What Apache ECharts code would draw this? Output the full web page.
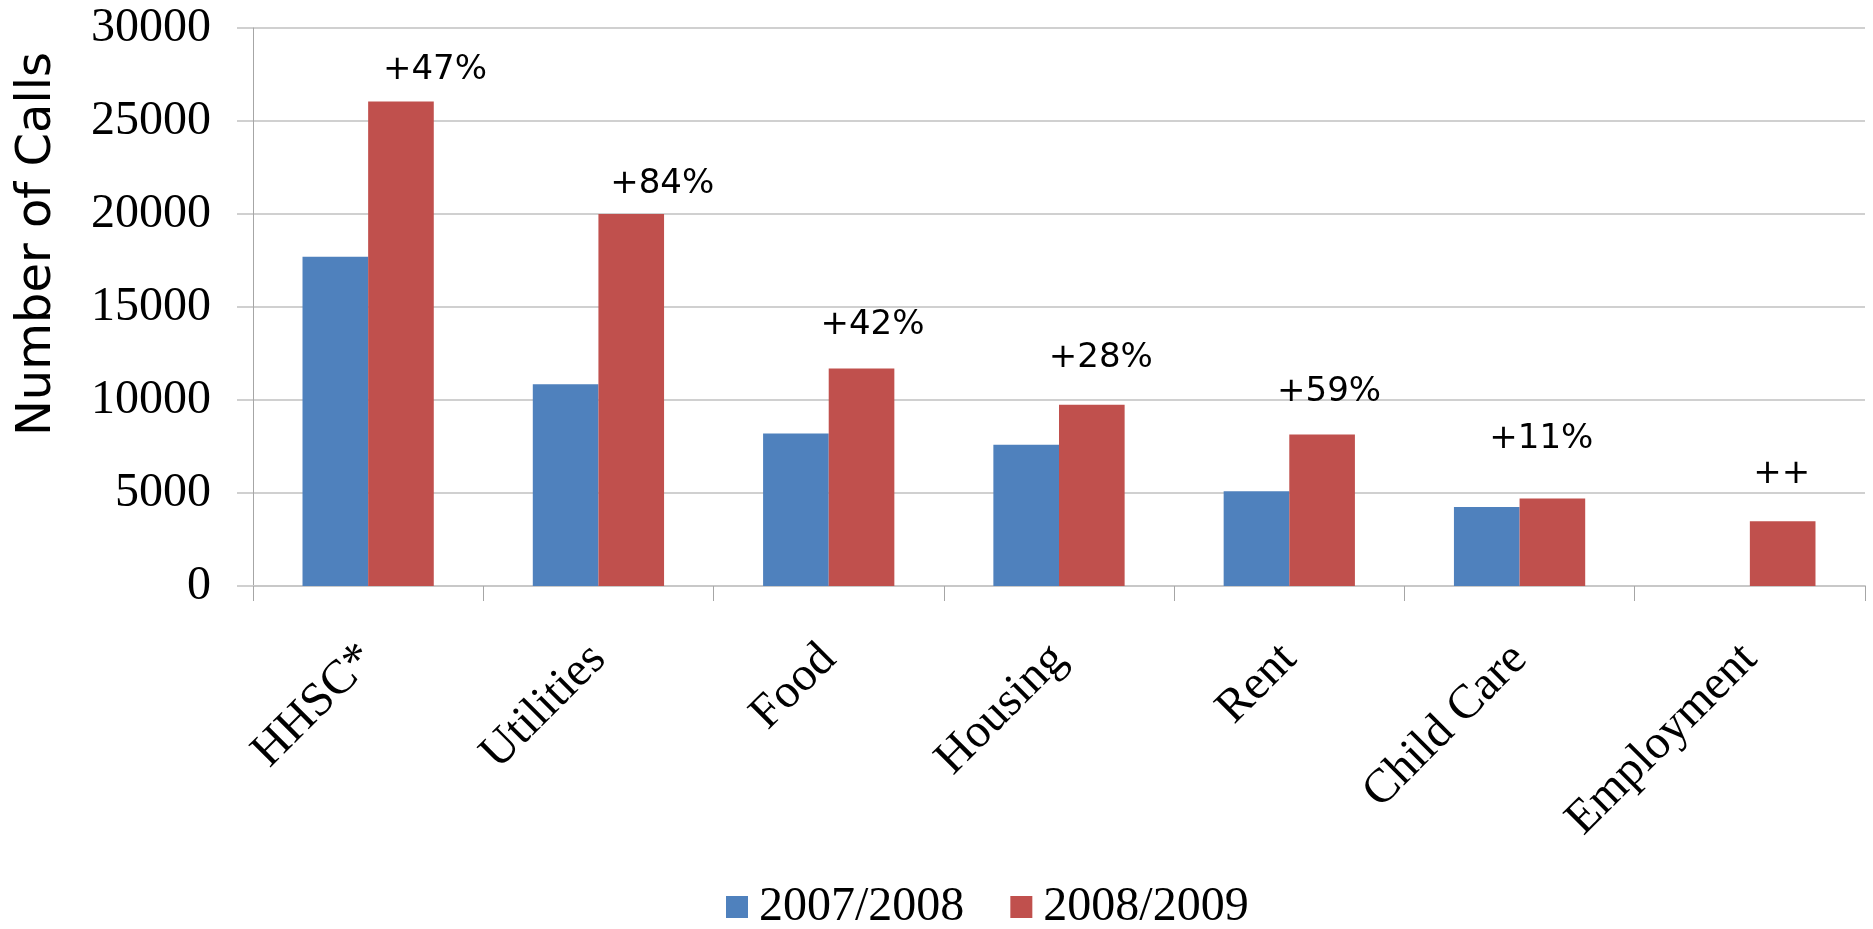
<!DOCTYPE html>
<html>
<head>
<meta charset="utf-8">
<script src="https://cdn.jsdelivr.net/npm/echarts@6/dist/echarts.min.js"></script>
<style>
html,body{margin:0;padding:0;background:#fff;}
#chart{width:1873px;height:929px;}
</style>
</head>
<body>
<div id="chart"></div>
<script>
// ---- data ----
const categories = ['HHSC*', 'Utilities', 'Food', 'Housing', 'Rent', 'Child Care', 'Employment'];
const seriesNames = ['2007/2008', '2008/2009'];
const calls2007 = [17700, 10850, 8200, 7600, 5100, 4250, null];
const calls2008 = [26050, 20000, 11700, 9750, 8150, 4700, 3480];
const changeLabels = ['+47%', '+84%', '+42%', '+28%', '+59%', '+11%', '++'];
const yMin = 0, yMax = 30000, yStep = 5000;

// ---- layout: label shifts (dx, height of label centre above bar top), px ----
const labelShift = [[34, 31], [31, 30], [11, 43], [9, 46], [7, 42], [-11, 59], [-1, 47]];
const LABEL_LH = 34;

const chart = echarts.init(document.getElementById('chart'), null, {renderer: 'canvas'});

const redData = calls2008.map((v, i) => ({
  value: v,
  label: {
    formatter: changeLabels[i],
    offset: [labelShift[i][0], -(labelShift[i][1] - LABEL_LH / 2)]
  }
}));

const option = {
  backgroundColor: '#ffffff',
  animation: false,
  grid: {left: 253, right: 8, top: 28, bottom: 343, containLabel: false, outerBoundsMode: 'none'},
  legend: {
    data: seriesNames,
    left: 721,
    top: 878,
    itemWidth: 22,
    itemHeight: 22,
    itemGap: 46,
    icon: 'rect',
    textStyle: {fontFamily: 'Liberation Serif', fontSize: 48, color: '#000', padding: [0, 0, 0, 6]}
  },
  xAxis: {
    type: 'category',
    data: categories,
    boundaryGap: true,
    axisLine: {show: true, lineStyle: {color: '#c8c8c8', width: 2}},
    axisTick: {show: true, length: 15, lineStyle: {color: '#a6a6a6', width: 1}},
    axisLabel: {
      rotate: 45,
      margin: 66,
      interval: 0,
      fontFamily: 'Liberation Serif',
      fontSize: 48,
      color: '#000'
    },
    splitLine: {show: false}
  },
  yAxis: {
    type: 'value',
    min: yMin,
    max: yMax,
    interval: yStep,
    name: 'Number of Calls',
    nameLocation: 'middle',
    nameRotate: 90,
    nameGap: 191,
    nameTextStyle: {fontFamily: 'DejaVu Sans', fontSize: 48, color: '#000', padding: [0, 0, 0, 126]},
    axisLine: {show: true, lineStyle: {color: '#a6a6a6', width: 1}},
    axisTick: {show: true, length: 16, lineStyle: {color: '#d0d0d0', width: 2}},
    axisLabel: {
      margin: 42,
      fontFamily: 'Liberation Serif',
      fontSize: 48,
      color: '#000',
      formatter: v => String(v)
    },
    splitLine: {show: true, lineStyle: {color: '#d0d0d0', width: 2}}
  },
  series: [
    {
      name: seriesNames[0],
      type: 'bar',
      data: calls2007,
      barGap: '0%',
      barCategoryGap: '43%',
      itemStyle: {color: '#4F81BD'}
    },
    {
      name: seriesNames[1],
      type: 'bar',
      data: redData,
      barGap: '0%',
      barCategoryGap: '43%',
      itemStyle: {color: '#C0504D'},
      label: {
        show: true,
        position: 'top',
        distance: 0,
        fontFamily: 'DejaVu Sans',
        fontSize: 34,
        lineHeight: LABEL_LH,
        color: '#000'
      }
    }
  ]
};
chart.setOption(option);
</script>
</body>
</html>
